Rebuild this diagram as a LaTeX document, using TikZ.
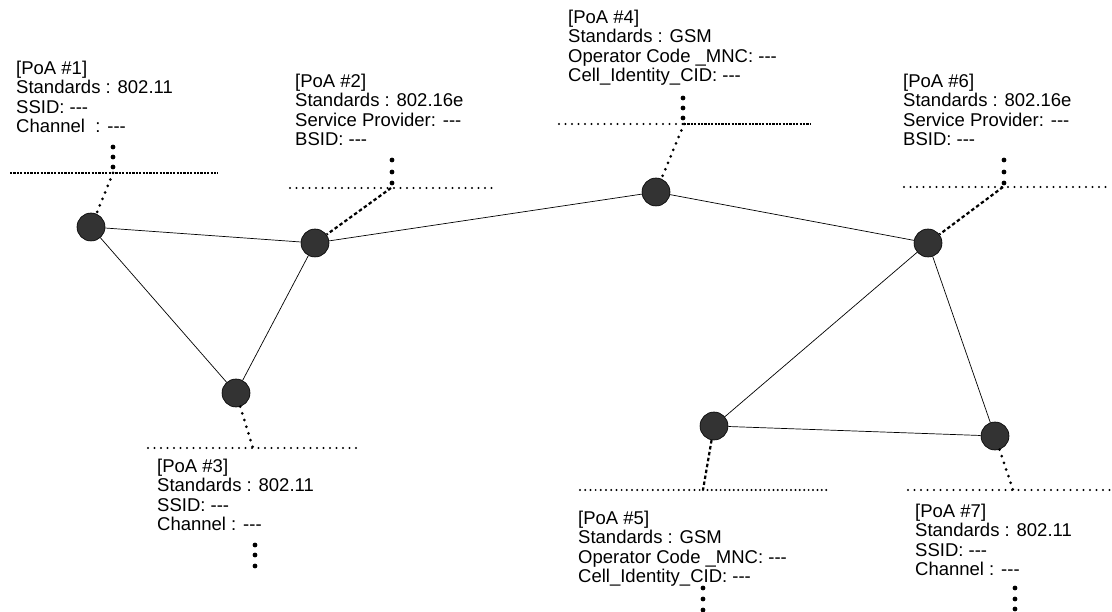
\documentclass[tikz,border=0pt]{standalone}
\usepackage{fontspec}
\setmainfont{Liberation Sans}
\newcommand{\tdash}{-\kern0pt-\kern0pt-}
\begin{document}
\begin{tikzpicture}[x=1pt,y=-1pt,
  poa/.style={circle,draw=black,fill=black!80,minimum size=28pt,inner sep=0pt,line width=0.6pt},
  link/.style={line width=0.7pt},
  hline/.style={line width=2.4pt,dash pattern=on 0pt off 6.5pt,line cap=round},
  hfine/.style={line width=2.2pt,dash pattern=on 0pt off 5.2pt,line cap=round},
  hdense/.style={line width=1.8pt,dash pattern=on 2.2pt off 1.2pt},
  dotlink/.style={line width=3pt,dash pattern=on 0pt off 7pt,line cap=round},
  dashlink/.style={line width=2.2pt,dash pattern=on 3.5pt off 2.5pt},
  vdot/.style={circle,fill=black,inner sep=0pt,minimum size=4.8pt},
  info/.style={anchor=north west,inner sep=0pt,align=left,font=\fontsize{18.5}{19.2}\selectfont}]
\useasboundingbox (0,0) rectangle (1112,612);

% nodes
\node[poa] (n1) at (91,227) {};
\node[poa] (n2) at (315,243) {};
\node[poa] (n3) at (236,393) {};
\node[poa] (n4) at (656,192) {};
\node[poa] (n6) at (928,243) {};
\node[poa] (n5) at (714,426) {};
\node[poa] (n7) at (995,436) {};

% links
\draw[link] (n1) -- (n2);
\draw[link] (n1) -- (n3);
\draw[link] (n2) -- (n3);
\draw[link] (n2) -- (n4);
\draw[link] (n4) -- (n6);
\draw[link] (n6) -- (n5);
\draw[link] (n6) -- (n7);
\draw[link] (n5) -- (n7);

% junction coordinates
\coordinate (j1) at (113,173);
\coordinate (j2) at (391,188);
\coordinate (j4) at (684,124);
\coordinate (j6) at (1003,187);
\coordinate (j3) at (253,448);
\coordinate (j5) at (703,490);
\coordinate (j7) at (1013,490);

\coordinate (l1a) at (10,173);  \coordinate (l1b) at (218,173);
\coordinate (l2a) at (290,188); \coordinate (l2b) at (496,188);
\coordinate (l4a) at (559,124); \coordinate (l4b) at (810,124);
\coordinate (l6a) at (904,187); \coordinate (l6b) at (1110,187);
\coordinate (l3a) at (148,448); \coordinate (l3b) at (360,448);
\coordinate (l5a) at (580,490); \coordinate (l5b) at (830,490);
\coordinate (l7a) at (908,490); \coordinate (l7b) at (1112,490);

% horizontal lines
\draw[hdense] (l1a) -- (l1b);
\draw[hline] (l2a) -- (l2b);
\draw[hline] (l4a) -- (j4);
\draw[hdense] (j4) -- (l4b);
\draw[hline] (l6a) -- (l6b);
\draw[hline] (l3a) -- (l3b);
\draw[hfine] (l5a) -- (j5);
\draw[hfine,dash pattern=on 0pt off 4.4pt] (j5) -- (l5b);
\draw[hline] (l7a) -- (l7b);

% junction to node links
\draw[dotlink] (j1) -- (n1);
\draw[dashlink] (j2) -- (n2);
\draw[dotlink] (j4) -- (n4);
\draw[dashlink] (j6) -- (n6);
\draw[dotlink] (n3) -- (j3);
\draw[dashlink] (n5) -- (j5);
\draw[dotlink] (n7) -- (j7);

% vertical dot groups
\node[vdot] (d1a) at (113,147) {}; \node[vdot] (d1b) at (113,157) {}; \node[vdot] (d1c) at (113,167) {};
\node[vdot] (d2a) at (392,160) {}; \node[vdot] (d2b) at (392,172) {}; \node[vdot] (d2c) at (392,183) {};
\node[vdot] (d4a) at (683,98) {};  \node[vdot] (d4b) at (683,108) {}; \node[vdot] (d4c) at (683,118) {};
\node[vdot] (d6a) at (1004,160) {}; \node[vdot] (d6b) at (1004,172) {}; \node[vdot] (d6c) at (1004,183) {};
\node[vdot] (d3a) at (255,545) {}; \node[vdot] (d3b) at (255,555) {}; \node[vdot] (d3c) at (255,566) {};
\node[vdot] (d5a) at (703,588) {}; \node[vdot] (d5b) at (703,599) {}; \node[vdot] (d5c) at (703,610) {};
\node[vdot] (d7a) at (1015,588) {}; \node[vdot] (d7b) at (1015,599) {}; \node[vdot] (d7c) at (1015,609) {};

% labels
\node[info] (t1) at (16,61) {[PoA \#1]\\Standards : 802.11\\SSID: \tdash\\Channel\ \ : \tdash};
\node[info] (t2) at (295,74) {[PoA \#2]\\Standards : 802.16e\\Service Provider: \tdash\\BSID: \tdash};
\node[info] (t4) at (568,10) {[PoA \#4]\\Standards : GSM\\Operator Code \_MNC: \tdash\\Cell\_Identity\_CID: \tdash};
\node[info] (t6) at (903,74) {[PoA \#6]\\Standards : 802.16e\\Service Provider: \tdash\\BSID: \tdash};
\node[info] (t3) at (157,459) {[PoA \#3]\\Standards : 802.11\\SSID: \tdash\\Channel : \tdash};
\node[info] (t5) at (578,511) {[PoA \#5]\\Standards : GSM\\Operator Code \_MNC: \tdash\\Cell\_Identity\_CID: \tdash};
\node[info] (t7) at (915,504) {[PoA \#7]\\Standards : 802.11\\SSID: \tdash\\Channel : \tdash};
\end{tikzpicture}
\end{document}
